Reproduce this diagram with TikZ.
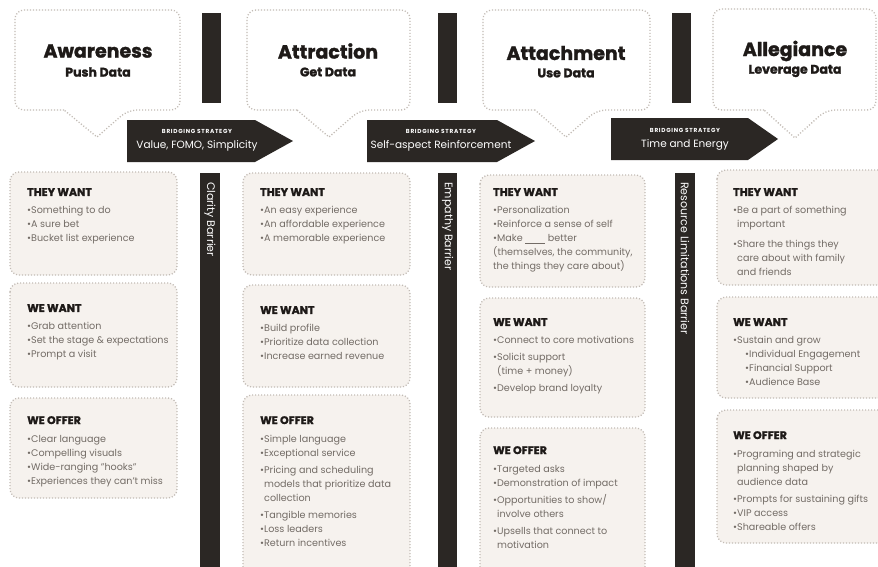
\documentclass[tikz,border=0pt]{standalone}
\usepackage{fontspec}
\setmainfont{Poppins}
\newfontfamily\heavyfont{Poppins}[BoldFeatures={FakeBold=1.5}]
\newfontfamily\spacedfont{Poppins}[LetterSpace=12]
\definecolor{darkc}{HTML}{2B2724}
\definecolor{dotc}{HTML}{C2BBB5}
\definecolor{cardc}{HTML}{F6F2EE}
\definecolor{bodyc}{HTML}{736C66}
\definecolor{headc}{HTML}{1E1A18}
\newcommand\hd[1]{{\fontsize{11}{14}\selectfont\heavyfont\bfseries\color{headc}#1}}
\begin{document}
\begin{tikzpicture}[x=1pt,y=-1pt,
  dots/.style={draw=dotc, line width=1.3pt, dash pattern=on 1.1pt off 1.9pt},
  card/.style={dots, fill=cardc, rounded corners=9pt},
  barfill/.style={fill=darkc, draw=none},
  body/.style={anchor=north west, align=left, inner sep=0pt, text=bodyc,
    font=\fontsize{9.6}{14}\selectfont},
  ttl/.style={inner sep=0pt, text=headc, font=\fontsize{19}{22}\selectfont\heavyfont\bfseries},
  sub/.style={inner sep=0pt, text=headc, font=\fontsize{12.5}{14}\selectfont\heavyfont\bfseries},
  bridgesmall/.style={inner sep=0pt, text=white, font=\fontsize{5.8}{6}\selectfont\spacedfont\bfseries},
  bridgebig/.style={inner sep=0pt, text=white, font=\fontsize{10.5}{12}\selectfont},
  vtext/.style={inner sep=0pt, text=white, rotate=-90, anchor=west, font=\fontsize{11}{12}\selectfont}]
\useasboundingbox (0,0) rectangle (878,566);
\clip (0,0) rectangle (878,566);
\fill[white] (0,0) rectangle (878,566);

% ---------- callouts ----------
\draw[dots] [rounded corners=9pt] (64,110) -- (15,110) -- (15,10) -- (180,10) -- (180,110) -- (128,110) [sharp corners] -- (97,137) -- (64,110);
\draw[dots] [rounded corners=9pt] (297,110) -- (247,110) -- (247,10) -- (410,10) -- (410,110) -- (360,110) [sharp corners] -- (329,137) -- (297,110);
\draw[dots] [rounded corners=9pt] (535,110) -- (483,110) -- (483,10) -- (650,10) -- (650,110) -- (597,110) [sharp corners] -- (566,137) -- (535,110);
\draw[dots] [rounded corners=9pt] (764,110) -- (713,110) -- (713,9) -- (876,9) -- (876,110) -- (826,110) [sharp corners] -- (795,138) -- (764,110);

\node[ttl] (t1) at (98,51) {Awareness};
\node[sub] (s1) at (98,72) {Push Data};
\node[ttl] (t2) at (328,51) {Attraction};
\node[sub] (s2) at (328,72) {Get Data};
\node[ttl] (t3) at (566,53) {Attachment};
\node[sub] (s3) at (566,73) {Use Data};
\node[ttl] (t4) at (795,51) {Allegiance};
\node[sub] (s4) at (795,71) {Leverage Data};

% ---------- upper bars ----------
\fill[barfill] (202,13) rectangle (221,103);
\fill[barfill] (438,13) rectangle (457,103);
\fill[barfill] (672,13) rectangle (691,103);

% ---------- bridging arrows ----------
\fill[darkc] (127,120) -- (255,120) -- (293,141) -- (255,162) -- (127,162) -- cycle;
\node[bridgesmall] (b1a) at (197,131) {BRIDGING STRATEGY};
\node[bridgebig] (b1b) at (197,146) {Value, FOMO, Simplicity};
\fill[darkc] (367,120) -- (497,120) -- (535,141) -- (497,162) -- (367,162) -- cycle;
\node[bridgesmall] (b2a) at (441,131) {BRIDGING STRATEGY};
\node[bridgebig] (b2b) at (441,146) {Self-aspect Reinforcement};
\fill[darkc] (611,118) -- (748,118) -- (778,139) -- (748,160) -- (611,160) -- cycle;
\node[bridgesmall] (b3a) at (685,130) {BRIDGING STRATEGY};
\node[bridgebig] (b3b) at (685,145) {Time and Energy};

% ---------- lower barrier bars ----------
\fill[barfill] (200,173) rectangle (220,570);
\node[vtext] (v1) at (210,182) {Clarity Barrier};
\fill[barfill] (438,173) rectangle (457,570);
\node[vtext] (v2) at (447.5,182) {Empathy Barrier};
\fill[barfill] (675,173) rectangle (695,570);
\node[vtext] (v3) at (685,182) {Resource Limitations Barrier};

% ---------- cards ----------
\draw[card] (10,172) rectangle (177,275);
\draw[card] (10,283) rectangle (177,387);
\draw[card] (10,398) rectangle (177,498);
\draw[card] (243,173) rectangle (410,275);
\draw[card] (243,285) rectangle (410,387);
\draw[card] (243,395) rectangle (410,590);
\draw[card] (480,175) rectangle (645,287);
\draw[card] (480,298) rectangle (645,417);
\draw[card] (480,428) rectangle (645,590);
\draw[card] (717,170) rectangle (900,285);
\draw[card] (717,297) rectangle (900,398);
\draw[card] (717,410) rectangle (900,543);

% column 1
\node[body] (c1a) at (27,188) {\hd{THEY WANT}\\[4pt]•Something to do\\•A sure bet\\•Bucket list experience};
\node[body] (c1b) at (27,304) {\hd{WE WANT}\\[4pt]•Grab attention\\•Set the stage \& expectations\\•Prompt a visit};
\node[body] (c1c) at (27,416) {\hd{WE OFFER}\\[4pt]•Clear language\\•Compelling visuals\\•Wide-ranging "hooks"\\•Experiences they can't miss};

% column 2
\node[body] (c2a) at (260,188) {\hd{THEY WANT}\\[4pt]•An easy experience\\•An affordable experience\\•A memorable experience};
\node[body] (c2b) at (260,306) {\hd{WE WANT}\\[4pt]•Build profile\\•Prioritize data collection\\•Increase earned revenue};
\node[body] (c2c) at (260,416) {\hd{WE OFFER}\\[4pt]•Simple language\\•Exceptional service\\[3pt]•Pricing and scheduling\\\hspace*{4pt}models that prioritize data\\\hspace*{4pt}collection\\[3pt]•Tangible memories\\•Loss leaders\\•Return incentives};

% column 3
\node[body] (c3a) at (493,188) {\hd{THEY WANT}\\[4pt]•Personalization\\•Reinforce a sense of self\\•Make \underline{\hspace{20pt}} better\\(themselves, the community,\\the things they care about)};
\node[body] (c3b) at (493,318) {\hd{WE WANT}\\[4pt]•Connect to core motivations\\[3pt]•Solicit support\\\hspace*{4pt}(time + money)\\[3pt]•Develop brand loyalty};
\node[body] (c3c) at (493,446) {\hd{WE OFFER}\\[4pt]•Targeted asks\\•Demonstration of impact\\[3pt]•Opportunities to show/\\\hspace*{4pt}involve others\\[3pt]•Upsells that connect to\\\hspace*{4pt}motivation};

% column 4
\node[body] (c4a) at (733,188) {\hd{THEY WANT}\\[4pt]•Be a part of something\\\hspace*{4pt}important\\[6pt]•Share the things they\\\hspace*{4pt}care about with family\\\hspace*{4pt}and friends};
\node[body] (c4b) at (733,318) {\hd{WE WANT}\\[4pt]•Sustain and grow\\\hspace*{12pt}•Individual Engagement\\\hspace*{12pt}•Financial Support\\\hspace*{12pt}•Audience Base};
\node[body] (c4c) at (733,431) {\hd{WE OFFER}\\[4pt]•Programing and strategic\\\hspace*{4pt}planning shaped by\\\hspace*{4pt}audience data\\[3pt]•Prompts for sustaining gifts\\•VIP access\\•Shareable offers};
\end{tikzpicture}
\end{document}
